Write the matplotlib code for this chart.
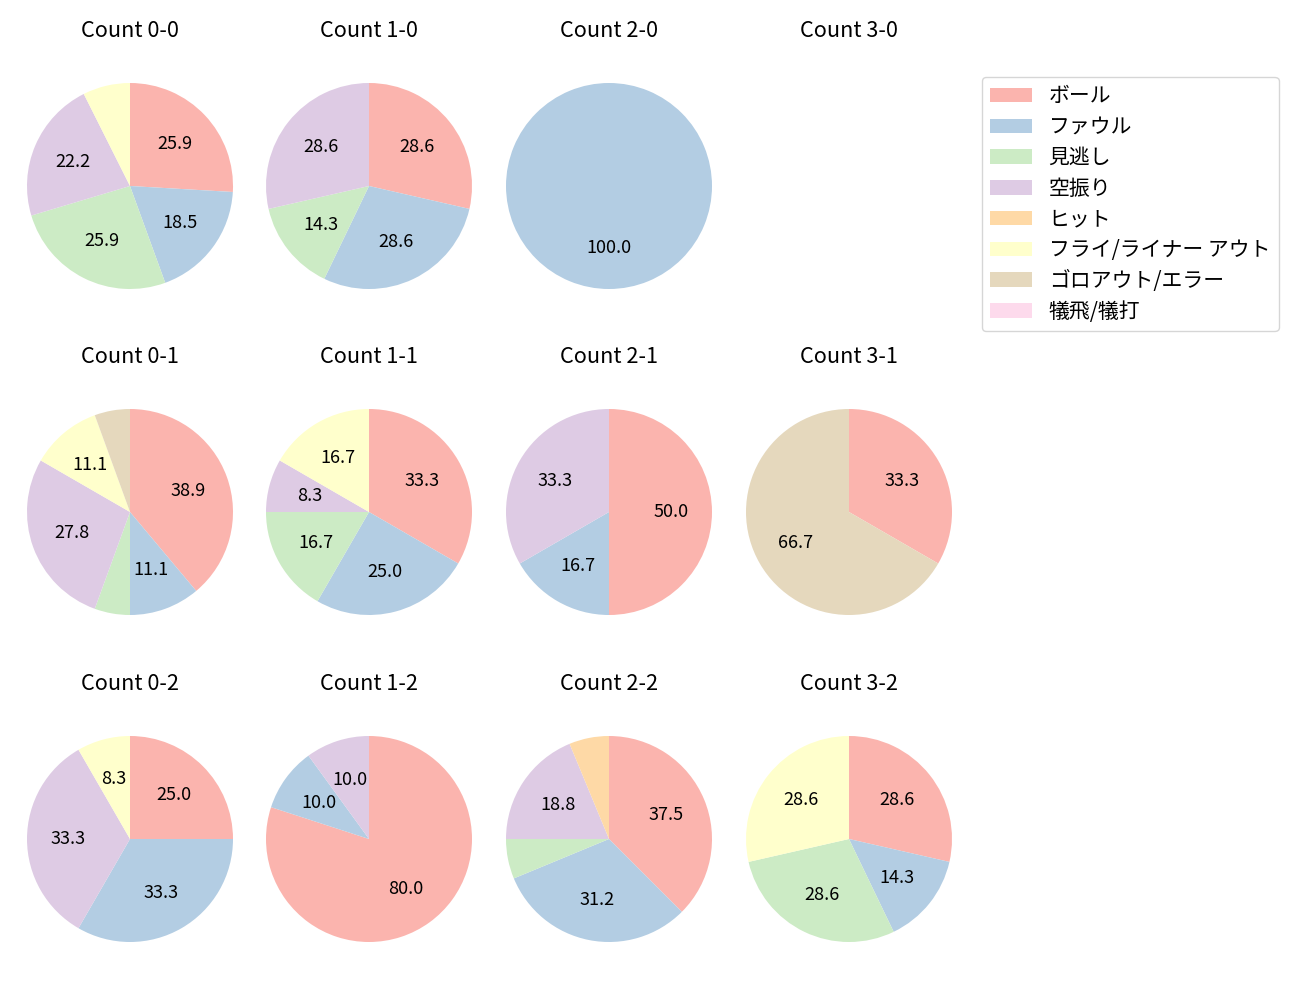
import matplotlib.pyplot as plt
from matplotlib.patches import Patch

plt.rcParams['font.family'] = ['Noto Sans CJK JP', 'DejaVu Sans']

# Categorías de resultado
categorias = ['ボール', 'ファウル', '見逃し', '空振り', 'ヒット',
              'フライ/ライナー アウト', 'ゴロアウト/エラー', '犠飛/犠打']

# Cantidad por cuenta (ball-strike), en el orden de categorias
conteos = {
    '0-0': [7, 5, 7, 6, 0, 2, 0, 0],
    '1-0': [2, 2, 1, 2, 0, 0, 0, 0],
    '2-0': [0, 1, 0, 0, 0, 0, 0, 0],
    '3-0': [0, 0, 0, 0, 0, 0, 0, 0],
    '0-1': [7, 2, 1, 5, 0, 2, 1, 0],
    '1-1': [4, 3, 2, 1, 0, 2, 0, 0],
    '2-1': [3, 1, 0, 2, 0, 0, 0, 0],
    '3-1': [1, 0, 0, 0, 0, 0, 2, 0],
    '0-2': [3, 4, 0, 4, 0, 1, 0, 0],
    '1-2': [8, 1, 0, 1, 0, 0, 0, 0],
    '2-2': [6, 5, 1, 3, 1, 0, 0, 0],
    '3-2': [2, 1, 2, 0, 0, 2, 0, 0],
}

colores = plt.get_cmap('Pastel1').colors[:len(categorias)]

fig = plt.figure(figsize=(13, 10), dpi=100)

# Posiciones de la grilla (en pixeles)
centros_x = [130, 369, 609, 849]
centros_y = [186, 512, 839]
ancho, alto = 257.5, 276

def mostrar_pct(p):
    return f'{p:.1f}' if p >= 8 else ''

for fila, strikes in enumerate([0, 1, 2]):
    for col, bolas in enumerate([0, 1, 2, 3]):
        clave = f'{bolas}-{strikes}'
        cx, cy = centros_x[col], centros_y[fila]
        ax = fig.add_axes([(cx - ancho / 2) / 1300, 1 - (cy + alto / 2) / 1000,
                           ancho / 1300, alto / 1000])
        ax.set_title(f'Count {clave}', fontsize=15.6, pad=8)
        valores = conteos[clave]
        datos = [(v, c) for v, c in zip(valores, colores) if v > 0]
        if not datos:
            ax.axis('off')
            continue
        ax.pie([d[0] for d in datos], colors=[d[1] for d in datos],
               startangle=90, counterclock=False, autopct=mostrar_pct,
               textprops={'fontsize': 13})
        ax.set_xlim(-1.25, 1.25)
        ax.set_ylim(-1.25 * alto / ancho, 1.25 * alto / ancho)

# Leyenda
handles = [Patch(facecolor=c, label=l) for c, l in zip(colores, categorias)]
fig.legend(handles=handles, loc='upper left', bbox_to_anchor=(982 / 1300, 1 - 77 / 1000),
           borderaxespad=0, fontsize=15, labelspacing=0.42)

fig.savefig('out.png', dpi=100)
